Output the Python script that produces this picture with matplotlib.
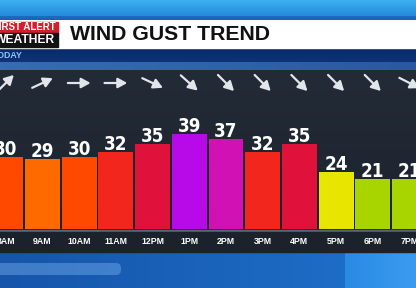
import numpy as np
import matplotlib.pyplot as plt
import matplotlib.transforms as mtransforms
from matplotlib import font_manager as fm
from matplotlib.colors import LinearSegmentedColormap
from matplotlib.patches import Rectangle, FancyBboxPatch

hours = ["8AM", "9AM", "10AM", "11AM", "12PM", "1PM", "2PM", "3PM", "4PM", "5PM", "6PM", "7PM"]
gusts = [30, 29, 30, 32, 35, 39, 37, 32, 35, 24, 21, 21]
# arrow heading, degrees counter-clockwise from east
arrow_dir = [45, 25, 0, 0, -25, -42, -45, -45, -45, -45, -45, -27]
bar_colors = ["#ff4800", "#ff6a00", "#ff4800", "#f2261c", "#e0123c", "#b80ae8",
              "#d012b4", "#f2261c", "#e0123c", "#e8e600", "#a8d400", "#a8d400"]

W, H = 416, 288

# a narrow face for the numbers, if one is around
narrow = [f for f in fm.fontManager.ttflist
          if ("Narrow" in f.fname or "Condensed" in f.fname) and "Oblique" not in f.fname
          and "Italic" not in f.fname]
narrow.sort(key=lambda f: (f.weight not in ("bold", 700), "Liberation" not in f.fname))
if narrow:
    num_font = fm.FontProperties(fname=narrow[0].fname, size=13.5)
else:
    num_font = fm.FontProperties(family="DejaVu Sans", weight="bold", size=11)

fig = plt.figure(figsize=(W / 100, H / 100), dpi=100)

# background canvas in pixel coordinates
bg = fig.add_axes([0, 0, 1, 1])
bg.axis("off")


def band(x0, x1, y0, y1, c0, c1, horizontal=False, z=0, alpha=1.0):
    cmap = LinearSegmentedColormap.from_list("", [c0, c1])
    g = np.linspace(0, 1, 64)
    img = g[None, :] if horizontal else g[:, None]
    bg.imshow(img, cmap=cmap, extent=(x0, x1, y1, y0), aspect="auto",
              zorder=z, interpolation="bilinear", alpha=alpha)


band(0, W, 0, 17, "#3cb0f2", "#2488da")
band(0, W, 17, 20.5, "#1c6cc2", "#1a62b8")
bg.add_patch(Rectangle((0, 20.5), W, 27.5, color="white", zorder=1))
band(0, W, 48, 62, "#0a2a68", "#0c3478")
band(0, W, 62, 70, "#3a6ab6", "#2a58a4", horizontal=True)
band(0, W, 70, 230, "#232b37", "#1c232d")
bg.add_patch(Rectangle((0, 229.5), W, 2.5, color="#5a636e", zorder=1))
bg.add_patch(Rectangle((0, 232), W, 20, color="#1b222c", zorder=1))
band(0, 345, 252, 288, "#1655aa", "#1d6cc6", horizontal=True)
band(345, W, 252, 288, "#2a8ae4", "#3a9cf0", horizontal=True)
bg.add_patch(FancyBboxPatch((-10, 263), 131, 12, boxstyle="round,pad=0,rounding_size=5",
                            color="#6aa4e6", alpha=0.5, zorder=2, lw=0))

# logo
bg.add_patch(Rectangle((0, 21.5), 58, 11, color="#d41f2b", zorder=2))
bg.add_patch(Rectangle((0, 32.5), 58, 14, color="#121212", zorder=2))
bg.text(56, 27.3, "FIRST ALERT", color="white", fontsize=7, weight="bold",
        family="Liberation Sans", ha="right", va="center", zorder=3)
bg.text(55, 40, "WEATHER", color="white", fontsize=8.7, weight="bold",
        family="Liberation Sans", ha="right", va="center", zorder=3)
bg.text(70, 34, "WIND GUST TREND", color="#111111", fontsize=15.3, weight="bold",
        family="Liberation Sans", ha="left", va="center", zorder=3)
bg.text(23, 55.5, "TODAY", color="#8ec6ff", fontsize=6.3, weight="bold",
        family="Liberation Sans", ha="right", va="center", zorder=3)

bg.set_xlim(0, W)
bg.set_ylim(H, 0)

# bar chart
ax = fig.add_axes([0, (H - 229) / H, 1, (229 - 70) / H])
ax.patch.set_visible(False)
ax.axis("off")
x = np.arange(len(hours))
ax.bar(x, gusts, width=0.95, color=bar_colors, zorder=2)
ax.set_xlim(-0.158, 11.177)
ax.set_ylim(1.3, 64.4)

for i, v in enumerate(gusts):
    ax.annotate(str(v), (i, v), xytext=(0, 1.5), textcoords="offset points",
                ha="center", va="baseline", color="white", fontproperties=num_font,
                annotation_clip=False)

trans = mtransforms.blended_transform_factory(ax.transData, bg.transData)
for i, h in enumerate(hours):
    ax.text(i, 242, h, transform=trans, ha="center", va="center", color="white",
            fontsize=6.3, weight="bold", family="Liberation Sans")

L = 8.2
for i, a in enumerate(arrow_dir):
    r = np.radians(a)
    dx, dy = L * np.cos(r), L * np.sin(r)
    head = mtransforms.offset_copy(trans, fig=fig, x=dx, y=dy, units="points")
    tail = mtransforms.offset_copy(trans, fig=fig, x=-dx, y=-dy, units="points")
    ax.annotate("", xy=(i, 83), xycoords=head, xytext=(i, 83), textcoords=tail,
                arrowprops=dict(arrowstyle="-|>,head_length=0.55,head_width=0.3",
                                color="#e2e5e9", lw=1.6, shrinkA=0, shrinkB=0),
                annotation_clip=False)

fig.savefig("out.png", dpi=100)
